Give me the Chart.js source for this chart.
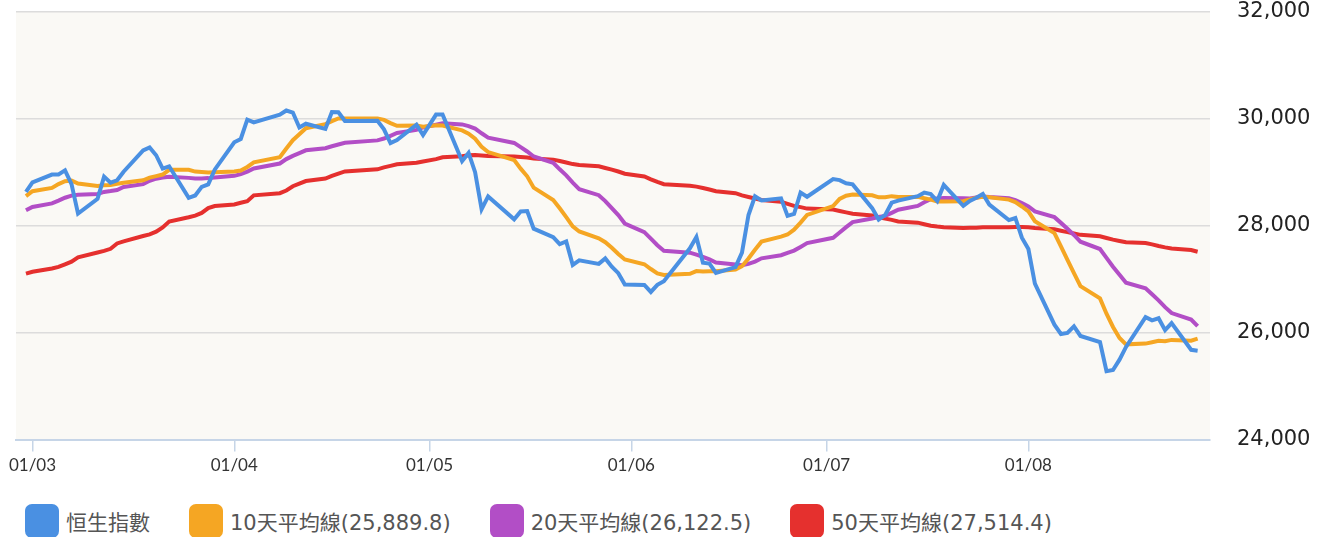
<!DOCTYPE html>
<html>
<head>
<meta charset="utf-8">
<script src="https://cdn.jsdelivr.net/npm/chart.js@4.4.1/dist/chart.umd.min.js"></script>
<style>
  html, body { margin: 0; padding: 0; background: #fff; overflow: hidden; }
  #wrap { position: relative; width: 1325px; height: 537px; }
  #box { position: absolute; left: 0; top: 0; width: 1325px; height: 490px; }
  #legend { position: absolute; left: 25px; top: 504px; display: flex; gap: 39px;
            font-family: "DejaVu Sans", "Noto Sans CJK TC", sans-serif; font-size: 21px; color: #555; }
  .item { display: flex; align-items: center; gap: 7px; height: 34px; }
  .swatch { width: 34px; height: 34px; border-radius: 7px; }
</style>
</head>
<body>
<div id="wrap">
  <div id="box"><canvas id="chart"></canvas></div>
  <div id="legend"></div>
</div>
<script>
// trading days 2019 (MM-DD)
const dates = ['02-28','03-01','03-04','03-05','03-06','03-07','03-08','03-11','03-12','03-13',
  '03-14','03-15','03-18','03-19','03-20','03-21','03-22','03-25','03-26','03-27',
  '03-28','03-29','04-01','04-02','04-03','04-04','04-08','04-09','04-10','04-11',
  '04-12','04-15','04-16','04-17','04-18','04-23','04-24','04-25','04-26','04-29',
  '04-30','05-02','05-03','05-06','05-07','05-08','05-09','05-10','05-14','05-15',
  '05-16','05-17','05-20','05-21','05-22','05-23','05-24','05-27','05-28','05-29',
  '05-30','05-31','06-03','06-04','06-05','06-06','06-10','06-11','06-12','06-13',
  '06-14','06-17','06-18','06-19','06-20','06-21','06-24','06-25','06-26','06-27',
  '06-28','07-02','07-03','07-04','07-05','07-08','07-09','07-10','07-11','07-12',
  '07-15','07-16','07-17','07-18','07-19','07-22','07-23','07-24','07-25','07-26',
  '07-29','07-30','07-31','08-01','08-02','08-05','08-06','08-07','08-08','08-09',
  '08-12','08-13','08-14','08-15','08-16','08-19','08-20','08-21','08-22','08-23',
  '08-26','08-27'];

const hsi = [28633,28812,28959,28961,29037,28779,28228,28503,28920,28807,
  28851,29012,29409,29466,29320,29071,29113,28523,28567,28728,
  28775,29051,29562,29624,29987,29936,30077,30157,30119,29839,
  29909,29812,30129,30124,29963,29964,29805,29549,29605,29892,
  29699,30081,30082,29209,29363,29003,28311,28550,28122,28268,
  28275,27946,27787,27657,27706,27267,27354,27288,27390,27235,
  27114,26901,26894,26762,26895,26965,27578,27789,27308,27294,
  27118,27227,27498,28202,28550,28473,28513,28185,28221,28621,
  28543,28875,28855,28796,28775,28331,28117,28202,28432,28472,
  28554,28620,28593,28462,28765,28372,28466,28524,28594,28397,
  28107,28146,27777,27565,26919,26151,25976,25997,26120,25939,
  25825,25281,25302,25495,25734,26291,26231,26270,26048,26179,
  25680,25664];

const ma10 = [28555.5,28646.7,28707.9,28781.2,28833.5,28848.5,28789.7,28744.1,28758.9,28763.9,
  28785.7,28805.7,28850.7,28901.2,28929.5,28958.7,29047.2,29049.2,29013.9,29006.0,
  28998.4,29002.3,29017.6,29033.4,29100.1,29186.6,29283.0,29446.4,29601.6,29712.7,
  29826.1,29902.2,29958.9,30008.9,30006.5,30009.3,29982.1,29921.3,29869.9,29875.2,
  29854.2,29881.1,29876.4,29784.9,29724.9,29628.8,29479.4,29379.5,29231.2,29068.8,
  28926.4,28712.9,28483.4,28328.2,28162.5,27988.9,27893.2,27767.0,27693.8,27590.5,
  27474.4,27369.9,27280.6,27191.1,27110.0,27079.8,27102.2,27152.3,27144.1,27150.0,
  27150.4,27183.0,27243.4,27387.4,27552.9,27703.7,27797.2,27836.8,27928.1,28060.8,
  28203.3,28368.1,28503.8,28563.2,28585.7,28571.5,28531.9,28533.6,28554.7,28539.8,
  28540.9,28515.4,28489.2,28455.8,28454.8,28458.9,28493.8,28526.0,28542.2,28534.7,
  28490.0,28442.6,28361.0,28271.3,28086.7,27864.6,27615.6,27362.9,27115.5,26869.7,
  26641.5,26355.0,26107.5,25900.5,25782.0,25796.0,25821.5,25848.8,25841.6,25865.6,
  25851.1,25889.8];

const ma20 = [28289.0,28353.1,28418.9,28469.9,28525.2,28564.6,28578.7,28596.7,28634.2,28649.7,
  28670.6,28726.2,28779.3,28841.2,28881.5,28903.6,28918.5,28896.7,28886.4,28885.0,
  28892.1,28904.0,28934.2,28967.3,29014.8,29072.7,29165.1,29247.8,29307.8,29359.4,
  29412.3,29452.3,29488.3,29521.2,29553.3,29598.0,29632.6,29683.9,29735.8,29794.0,
  29840.2,29891.7,29917.7,29896.9,29865.7,29819.1,29730.8,29650.4,29550.6,29472.0,
  29390.3,29297.0,29179.9,29056.6,28943.7,28808.9,28686.3,28573.3,28462.5,28329.7,
  28200.4,28041.4,27882.0,27759.7,27636.3,27534.4,27497.7,27459.7,27419.0,27370.3,
  27312.4,27276.5,27262.0,27289.3,27331.5,27391.8,27449.7,27494.6,27536.1,27605.4,
  27676.9,27775.6,27873.6,27975.3,28069.3,28137.6,28164.6,28185.2,28241.4,28300.3,
  28372.1,28441.8,28496.5,28509.5,28520.3,28515.2,28512.9,28529.8,28548.5,28537.3,
  28515.5,28479.0,28425.1,28363.6,28270.8,28161.8,28054.7,27944.5,27828.9,27702.2,
  27565.8,27398.8,27234.3,27085.9,26934.4,26830.3,26718.6,26605.9,26478.6,26367.7,
  26246.3,26122.5];

const ma50 = [27105,27140,27200,27230,27280,27330,27410,27500,27530,27570,
  27670,27710,27810,27840,27890,27970,28080,28160,28190,28240,
  28330,28370,28400,28430,28460,28570,28610,28660,28740,28790,
  28837.6,28883.3,28933.0,28976.6,29017.3,29056.8,29093.9,29122.1,29150.7,29178.6,
  29204.0,29247.6,29282.3,29301.9,29318.9,29326.4,29316.3,29308.1,29295.1,29285.3,
  29278.2,29260.8,29237.4,29211.3,29184.7,29154.5,29137.0,29112.7,29082.1,29050.6,
  29015.9,28973.7,28923.4,28869.3,28820.8,28778.7,28748.0,28733.3,28708.1,28679.4,
  28646.3,28609.8,28568.5,28540.1,28511.4,28482.1,28450.8,28411.4,28373.4,28349.1,
  28321.7,28303.0,28277.5,28251.0,28227.2,28194.5,28160.8,28133.8,28110.4,28082.0,
  28059.1,28029.9,28000.1,27985.1,27973.2,27960.6,27963.7,27963.1,27972.6,27975.2,
  27971.8,27975.8,27975.6,27973.8,27958.0,27935.7,27908.1,27882.3,27856.9,27831.0,
  27805.2,27772.8,27741.0,27715.6,27692.4,27678.9,27652.0,27621.6,27596.4,27574.1,
  27545.4,27514.4];

const monthTicks = ['03-01','04-01','05-01','06-01','07-01','08-01'];
const monthLabels = ['01/03','01/04','01/05','01/06','01/07','01/08'];
const yTicks = [24000, 26000, 28000, 30000, 32000];

const seriesNames = ['恒生指數', '10天平均線', '20天平均線', '50天平均線'];
const colors = ['#4a90e2', '#f5a623', '#b24ec6', '#e5302e'];

// days since 1 March 2019
function dayOf(s) {
  const [m, d] = s.split('-').map(Number);
  return (Date.UTC(2019, m - 1, d) - Date.UTC(2019, 2, 1)) / 864e5;
}
const tickDays = monthTicks.map(dayOf);
const fmt = v => v.toLocaleString('en-US', { minimumFractionDigits: 1, maximumFractionDigits: 1 });

const values = [hsi, ma10, ma20, ma50];
const labels = seriesNames.map((n, i) => i === 0 ? n : n + '(' + fmt(values[i][values[i].length - 1]) + ')');

const plotBg = {
  id: 'plotBg',
  beforeDraw(chart) {
    const { ctx, chartArea: a } = chart;
    ctx.save();
    ctx.fillStyle = '#faf9f5';
    ctx.fillRect(a.left, a.top, a.right - a.left, a.bottom - a.top);
    ctx.restore();
  }
};

new Chart(document.getElementById('chart'), {
  type: 'line',
  data: {
    datasets: values.map((arr, i) => ({
      label: labels[i],
      data: arr.map((v, j) => ({ x: dayOf(dates[j]), y: v })),
      borderColor: colors[i],
      backgroundColor: colors[i],
      borderWidth: 4,
      pointRadius: 0,
      tension: 0,
      fill: false
    }))
  },
  options: {
    responsive: true,
    maintainAspectRatio: false,
    animation: false,
    layout: { padding: { left: 16, right: 15, top: 0, bottom: 10 } },
    plugins: { legend: { display: false }, tooltip: { enabled: false } },
    scales: {
      x: {
        type: 'linear',
        min: -2.53,
        max: 180.9,
        afterBuildTicks: axis => { axis.ticks = tickDays.map(v => ({ value: v })); },
        ticks: {
          autoSkip: false,
          maxRotation: 0,
          padding: 4,
          color: '#333',
          font: { family: 'Lato', size: 17 },
          callback: v => monthLabels[tickDays.indexOf(v)]
        },
        grid: { drawOnChartArea: false, tickLength: 12, color: '#c6d5e7', lineWidth: 1.5 },
        border: { color: '#c6d5e7', width: 2 }
      },
      y: {
        position: 'right',
        min: 24000,
        max: 32000,
        afterBuildTicks: axis => { axis.ticks = yTicks.map(v => ({ value: v })); },
        afterFit: axis => {
          axis.width = 100;
          axis.paddingTop = 12;
          axis.paddingBottom = 12;
        },
        ticks: {
          padding: 27,
          color: '#222',
          font: { family: 'DejaVu Sans', size: 21 },
          callback: v => v.toLocaleString('en-US')
        },
        grid: {
          drawTicks: false,
          lineWidth: 1.5,
          color: c => c.tick && c.tick.value === 24000 ? 'rgba(0,0,0,0)' : '#dcdcdc'
        },
        border: { display: false }
      }
    }
  },
  plugins: [plotBg]
});

const legend = document.getElementById('legend');
labels.forEach((t, i) => {
  const item = document.createElement('div');
  item.className = 'item';
  const sw = document.createElement('span');
  sw.className = 'swatch';
  sw.style.background = colors[i];
  const tx = document.createElement('span');
  tx.textContent = t;
  item.appendChild(sw);
  item.appendChild(tx);
  legend.appendChild(item);
});
</script>
</body>
</html>
